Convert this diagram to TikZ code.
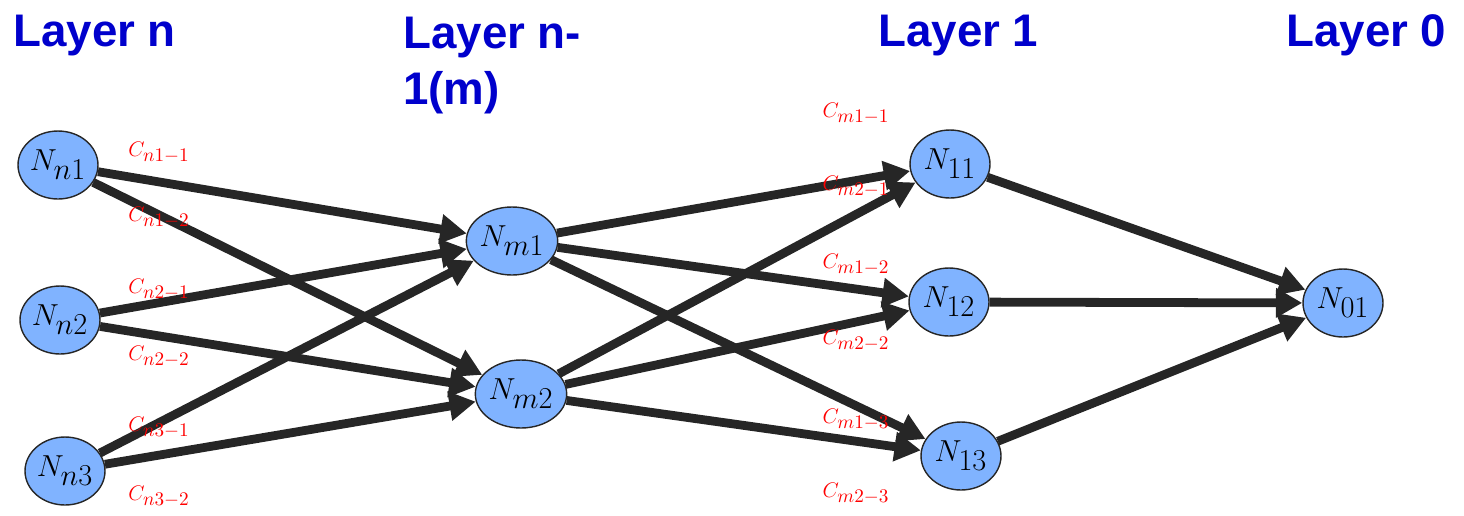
\documentclass[tikz,border=0pt]{standalone}
\usepackage{fontspec}
\setsansfont{Liberation Sans}
\usetikzlibrary{shapes.geometric,arrows.meta}
\definecolor{nodeblue}{RGB}{128,179,255}
\definecolor{edgegray}{RGB}{38,38,38}
\definecolor{titleblue}{RGB}{0,0,204}
\DeclareMathSizes{18}{18}{16}{12}
\DeclareMathSizes{12}{12}{11}{8}
\begin{document}
\begin{tikzpicture}[x=0.02cm,y=-0.02cm,
  neuron/.style={ellipse,draw=edgegray,line width=0.8pt,fill=nodeblue,
    minimum width=1.6cm,minimum height=1.36cm,inner sep=0pt,
    font=\fontsize{18}{20}\selectfont},
  wire/.style={draw=edgegray,line width=5pt,
    -{Triangle[length=15pt,width=16pt]}},
  weight/.style={text=red,inner sep=0pt,font=\fontsize{12}{14}\selectfont},
  layertitle/.style={text=titleblue,inner sep=0pt,align=left,
    font=\sffamily\bfseries\fontsize{26}{31.5}\selectfont}]
\useasboundingbox (0,0) rectangle (1464,515);

% layer titles
\node[layertitle,anchor=base west] (tn) at (13,46) {Layer n};
\node[layertitle,anchor=north west] (tm) at (403,17) {Layer n-\\1(m)};
\node[layertitle,anchor=base west] (t1) at (878,46) {Layer 1};
\node[layertitle,anchor=base west] (t0) at (1286,46) {Layer 0};

% neurons
\node[neuron] (nn1) at (58,165) {$N_{n1}$};
\node[neuron] (nn2) at (60,320) {$N_{n2}$};
\node[neuron] (nn3) at (65,471) {$N_{n3}$};
\node[neuron] (nm1) at (512,241) {$N_{m1}$};
\node[neuron] (nm2) at (521,394) {$N_{m2}$};
\node[neuron] (n11) at (950,164) {$N_{11}$};
\node[neuron] (n12) at (949,302) {$N_{12}$};
\node[neuron] (n13) at (961,456) {$N_{13}$};
\node[neuron] (n01) at (1343,303) {$N_{01}$};

% connections
\draw[wire] (nn1) -- (nm1);
\draw[wire] (nn1) -- (nm2);
\draw[wire] (nn2) -- (nm1);
\draw[wire] (nn2) -- (nm2);
\draw[wire] (nn3) -- (nm1);
\draw[wire] (nn3) -- (nm2);
\draw[wire] (nm1) -- (n11);
\draw[wire] (nm1) -- (n12);
\draw[wire] (nm1) -- (n13);
\draw[wire] (nm2) -- (n11);
\draw[wire] (nm2) -- (n12);
\draw[wire] (nm2) -- (n13);
\draw[wire] (n11) -- (n01);
\draw[wire] (n12) -- (n01);
\draw[wire] (n13) -- (n01);

% weights
\node[weight] (cn11) at (159,153) {$C_{n1-1}$};
\node[weight] (cn12) at (159,218) {$C_{n1-2}$};
\node[weight] (cn21) at (159,290) {$C_{n2-1}$};
\node[weight] (cn22) at (159,357) {$C_{n2-2}$};
\node[weight] (cn31) at (159,428) {$C_{n3-1}$};
\node[weight] (cn32) at (159,497) {$C_{n3-2}$};
\node[weight] (cm11) at (856,114) {$C_{m1-1}$};
\node[weight] (cm21) at (856,187) {$C_{m2-1}$};
\node[weight] (cm12) at (856,265) {$C_{m1-2}$};
\node[weight] (cm22) at (856,341) {$C_{m2-2}$};
\node[weight] (cm13) at (856,420) {$C_{m1-3}$};
\node[weight] (cm23) at (856,494) {$C_{m2-3}$};
\end{tikzpicture}
\end{document}
